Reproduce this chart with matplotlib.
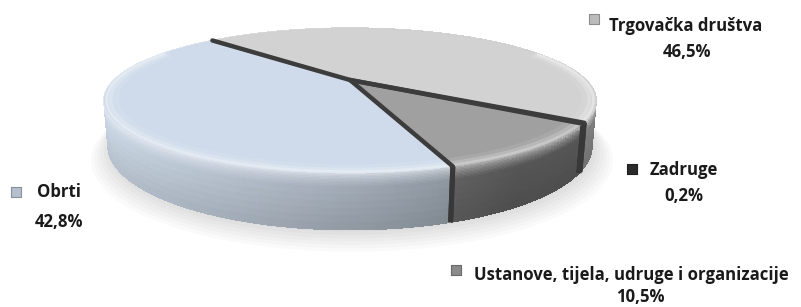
import numpy as np
import matplotlib
matplotlib.use("Agg")
from matplotlib import pyplot as plt
from matplotlib.patches import Polygon
from matplotlib.collections import PolyCollection

# Data
categories = ["Trgovačka društva", "Zadruge", "Ustanove, tijela, udruge i organizacije", "Obrti"]
shares = [46.5, 0.2, 10.5, 42.8]
share_labels = ["46,5%", "0,2%", "10,5%", "42,8%"]
top_colors = ["#d2d2d2", "#1e1e1e", "#a0a0a0", "#cfdbea"]
wall_colors = ["#cccccc", "#1a1a1a", "#8a8a8a", "#ccd8e6"]
marker_colors = ["#bcbcbc", "#2a2a2a", "#8a8a8a", "#b4c0ce"]

# 3D view settings (pixel space)
W, H = 801, 307
cx, cy = 350, 80          # projected centre of the pie
scale = 236
alpha = np.radians(16.4)
dist = 3.385
depth = 0.19
start_angle = 134.5       # first slice starts here, runs clockwise


def project(theta, z=0.0, r=1.0):
    X = r * np.cos(theta)
    Y = r * np.sin(theta)
    d = dist + Y * np.cos(alpha) - z * np.sin(alpha)
    f = dist / d
    px = cx + scale * X * f
    py = cy - scale * (Y * np.sin(alpha) + z * np.cos(alpha)) * f
    return px, py, d


def shade(theta):
    diff = (np.degrees(theta) - 190 + 180) % 360 - 180
    return 0.62 + 0.38 * max(0.0, np.cos(np.radians(diff * 0.8)))


def mix(color, k):
    rgb = np.array(matplotlib.colors.to_rgb(color))
    return np.clip(rgb * k, 0, 1)


def tint(color, k):
    rgb = np.array(matplotlib.colors.to_rgb(color))
    return rgb + (1 - rgb) * k


fig = plt.figure(figsize=(W / 100, H / 100), dpi=100)
ax = fig.add_axes([0, 0, 1, 1])
ax.set_xlim(0, W)
ax.set_ylim(H, 0)
ax.axis("off")

# faint soft shadow around the base of the pie
th_all = np.linspace(0, 2 * np.pi, 240)
for i in range(7):
    sx, sy, _ = project(th_all, -depth, 1.0 + 0.012 * i)
    ax.fill(sx + 2, sy + 2 + 1.5 * i, color="#000000", alpha=0.02, lw=0, zorder=1)

# slice angle ranges
bounds = start_angle - np.cumsum([0] + [s / 100 * 360 for s in shares])
slices = [(np.radians(bounds[i]), np.radians(bounds[i + 1])) for i in range(len(shares))]

# outer walls with a rounded (bevelled) top edge, painted back to front
bands = np.concatenate([np.linspace(0, 0.25, 11), np.linspace(0.25, 1.0, 7)[1:]])
quads = []
for i, (t0, t1) in enumerate(slices):
    n = max(2, int(abs(bounds[i] - bounds[i + 1]) / 1.0) + 1)
    th = np.linspace(t0, t1, n)
    for a, b in zip(th[:-1], th[1:]):
        base = mix(wall_colors[i], shade((a + b) / 2))
        hi = tint(top_colors[i], 0.55)
        _, _, dd = project((a + b) / 2)
        for u0, u1 in zip(bands[:-1], bands[1:]):
            um = (u0 + u1) / 2
            if um < 0.25:
                col = hi + (base - hi) * np.sqrt(um / 0.25)
            else:
                col = base * (1 - 0.1 * (um - 0.25) / 0.75)
            x1, y1, _ = project(a, -depth * u0)
            x2, y2, _ = project(b, -depth * u0)
            x3, y3, _ = project(b, -depth * u1)
            x4, y4, _ = project(a, -depth * u1)
            quads.append((dd, [(x1, y1), (x2, y2), (x3, y3), (x4, y4)], np.clip(col, 0, 1)))
quads.sort(key=lambda q: -q[0])
ax.add_collection(PolyCollection([q[1] for q in quads], facecolors=[q[2] for q in quads],
                                 edgecolors=[q[2] for q in quads], linewidths=0.4,
                                 antialiased=False, zorder=2))

# dark outline on the wall edges at slice boundaries
for t0, t1 in slices:
    for t in (t0, t1):
        if np.sin(t) < 0.0:
            xa, ya, _ = project(t)
            xb, yb, _ = project(t, -depth)
            ax.plot([xa, xb], [ya, yb], color="#383838", lw=3.6, zorder=3, solid_capstyle="butt")

# top faces with a light rim
for i, (t0, t1) in enumerate(slices):
    n = max(2, int(abs(bounds[i] - bounds[i + 1])) + 2)
    th = np.linspace(t0, t1, n)
    px, py, _ = project(th)
    pts = [(cx, cy)] + list(zip(px, py))
    ax.add_patch(Polygon(pts, closed=True, fc=top_colors[i], ec="none", zorder=4))
    front = th[np.sin(th) < 0.45]
    if len(front) > 1:
        for r, k, lw in [(0.955, 0.12, 4), (0.975, 0.3, 3), (0.99, 0.5, 2)]:
            hx, hy, _ = project(front, 0, r)
            ax.plot(hx, hy, color=tint(top_colors[i], k), lw=lw, alpha=0.8, zorder=5,
                    solid_capstyle="butt")

# slice separators on the top
for t0, t1 in slices:
    ex, ey, _ = project(t0)
    ax.plot([cx, ex], [cy, ey], color="#3c3c3c", lw=3.2, zorder=6, solid_capstyle="round")

# labels: name line and percentage line (baselines)
name_pos = [(686, 31), (684, 175), (631, 280), (59, 197)]
pct_pos = [(687, 57), (684, 201), (640, 302), (59, 227)]
marker_pos = [(594, 19), (632, 169), (456, 270), (16, 192)]
font = dict(ha="center", va="baseline", fontsize=12.1, fontweight="bold",
            family="Open Sans", color="#1a1a1a", zorder=10)
for i, name in enumerate(categories):
    ax.text(*name_pos[i], name, **font)
    ax.text(*pct_pos[i], share_labels[i], **font)
    ax.scatter(*marker_pos[i], marker="s", s=55, color=marker_colors[i],
               edgecolors=mix(marker_colors[i], 0.75), linewidths=0.8, zorder=10)

fig.savefig("out.png", dpi=100)
